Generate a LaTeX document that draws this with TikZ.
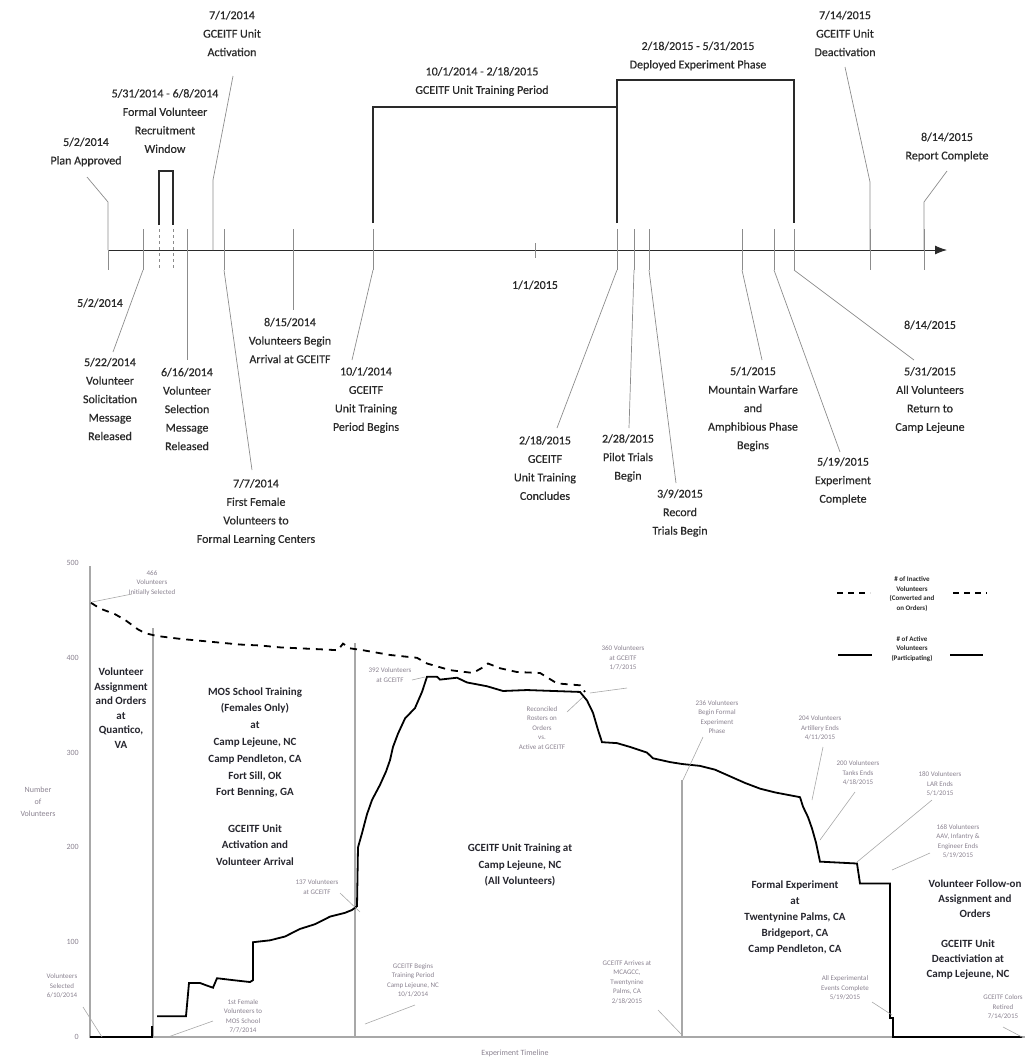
\documentclass[tikz,border=0pt]{standalone}
\usepackage{fontspec}
\setmainfont{Carlito}
\newfontfamily\tlfont{Carlito}[FakeBold=0.5]
\usetikzlibrary{arrows.meta}
\definecolor{ink}{HTML}{2A2A2A}
\definecolor{leader}{HTML}{8C8C8C}
\definecolor{note}{HTML}{8A8290}
\definecolor{divider}{HTML}{A8A8A8}
\definecolor{phase}{HTML}{26262E}
\begin{document}
\begin{tikzpicture}[x=1pt,y=-1pt,
  tl/.style={font=\tlfont\fontsize{12}{18.5}\selectfont, text=ink, align=center, inner sep=0pt},
  tickmark/.style={draw=leader, line width=0.7pt},
  lead/.style={draw=leader, line width=0.7pt},
  bracket/.style={draw=ink, line width=2pt},
  notelbl/.style={font=\fontsize{7}{9.5}\selectfont, text=note, align=center, inner sep=0pt},
  notelead/.style={draw=divider, line width=0.6pt},
  legendlbl/.style={font=\bfseries\fontsize{7}{9.5}\selectfont, text=ink, align=center, inner sep=0pt},
  phaselbl/.style={font=\bfseries\fontsize{11}{14.5}\selectfont, text=phase, align=center, inner sep=0pt},
  phasewide/.style={phaselbl, font=\bfseries\fontsize{11}{16.8}\selectfont},
  axislbl/.style={font=\fontsize{8}{12}\selectfont, text=note, inner sep=0pt},
  divline/.style={draw=divider, line width=1.4pt},
  active/.style={draw=black, line width=1.8pt, line join=miter},
  inactive/.style={draw=black, line width=1.8pt, dash pattern=on 7pt off 6pt}
]
\useasboundingbox (0,0) rectangle (1025,1061);

% ---------------- timeline ----------------
\coordinate (axL) at (108,250);
\coordinate (axR) at (947,250);
\draw[draw=ink, line width=0.9pt, -{Latex[length=12pt,width=9pt]}] (axL) -- (axR);

% tick marks crossing the axis
\foreach \x in {143,187,224,293,373,617,634,649,742,774,794,870,924}
  \draw[tickmark] (\x,229) -- (\x,270);
\draw[tickmark] (108,250) -- (108,270);
\draw[tickmark] (535,243) -- (535,258);
\foreach \x in {159,173}
  \draw[draw=leader, line width=0.7pt, dash pattern=on 3pt off 3pt] (\x,229) -- (\x,270);

% labels above the axis
\node[tl] (planA) at (86,152) {5/2/2014\\Plan Approved};
\node[tl] (recr) at (165,121) {5/31/2014 - 6/8/2014\\Formal Volunteer\\Recruitment\\Window};
\node[tl] (activ) at (232,33.5) {7/1/2014\\GCEITF Unit\\Activation};
\node[tl] (trainP) at (482,81.5) {10/1/2014 - 2/18/2015\\GCEITF Unit Training Period};
\node[tl] (deplP) at (698,56) {2/18/2015 - 5/31/2015\\Deployed Experiment Phase};
\node[tl] (deact) at (845,33.5) {7/14/2015\\GCEITF Unit\\Deactivation};
\node[tl] (report) at (947,147) {8/14/2015\\Report Complete};

% recruitment window bracket
\coordinate (w1) at (159,225); \coordinate (w2) at (159,171);
\coordinate (w3) at (173,171); \coordinate (w4) at (173,225);
\draw[bracket, line width=1.6pt] (w1) -- (w2) -- (w3) -- (w4);

% training period and deployed phase brackets
\coordinate (t1) at (373,223); \coordinate (t2) at (373,107); \coordinate (t3) at (617,107);
\coordinate (d1) at (617,223); \coordinate (d2) at (617,80);
\coordinate (d3) at (794,80); \coordinate (d4) at (794,223);
\draw[bracket] (t1) -- (t2) -- (t3);
\draw[bracket] (d1) -- (d2) -- (d3) -- (d4);

% leaders above the axis
\coordinate (pa1) at (87,177); \coordinate (pa2) at (108,202);
\draw[lead] (pa1) -- (pa2) -- (axL);
\coordinate (ac1) at (233,76); \coordinate (ac2) at (213,180); \coordinate (ac3) at (213,250);
\draw[lead] (ac1) -- (ac2) -- (ac3);
\coordinate (de1) at (845,67); \coordinate (de2) at (870,182); \coordinate (de3) at (870,250);
\draw[lead] (de1) -- (de2) -- (de3);
\coordinate (rc1) at (947,171); \coordinate (rc2) at (924,202); \coordinate (rc3) at (924,250);
\draw[lead] (rc1) -- (rc2) -- (rc3);

% labels below the axis
\node[tl] (b52) at (100,303) {5/2/2014};
\node[tl] (b11) at (535,285) {1/1/2015};
\node[tl] (b814) at (930,325) {8/14/2015};
\node[tl] (b815) at (290,340.5) {8/15/2014\\Volunteers Begin\\Arrival at GCEITF};
\node[tl] (b522) at (110,399) {5/22/2014\\Volunteer\\Solicitation\\Message\\Released};
\node[tl] (b616) at (187,409) {6/16/2014\\Volunteer\\Selection\\Message\\Released};
\node[tl] (b101) at (366,400) {10/1/2014\\GCEITF\\Unit Training\\Period Begins};
\node[tl] (b77) at (256,512) {7/7/2014\\First Female\\Volunteers to\\Formal Learning Centers};
\node[tl] (b218) at (545,468) {2/18/2015\\GCEITF\\Unit Training\\Concludes};
\node[tl] (b228) at (628,458) {2/28/2015\\Pilot Trials\\Begin};
\node[tl] (b39) at (680,513) {3/9/2015\\Record\\Trials Begin};
\node[tl] (b51) at (753,409) {5/1/2015\\Mountain Warfare\\and\\Amphibious Phase\\Begins};
\node[tl] (b519) at (843,481) {5/19/2015\\Experiment\\Complete};
\node[tl] (b531) at (930,400) {5/31/2015\\All Volunteers\\Return to\\Camp Lejeune};

% leaders below the axis (each starts at the foot of its tick)
\coordinate (s0) at (143,270); \coordinate (s2) at (113,352);
\draw[lead] (s0) -- (s2);
\coordinate (v0) at (187,270); \coordinate (v1) at (187,360);
\draw[lead] (v0) -- (v1);
\coordinate (f0) at (224,270); \coordinate (f2) at (252,470);
\draw[lead] (f0) -- (f2);
\coordinate (g0) at (293,270); \coordinate (g1) at (293,310);
\draw[lead] (g0) -- (g1);
\coordinate (u0) at (373,270); \coordinate (u2) at (352,360);
\draw[lead] (u0) -- (u2);
\coordinate (c0) at (617,270); \coordinate (c2) at (557,428);
\draw[lead] (c0) -- (c2);
\coordinate (p0) at (634,270); \coordinate (p2) at (629,428);
\draw[lead] (p0) -- (p2);
\coordinate (r0) at (649,270); \coordinate (r2) at (676,483);
\draw[lead] (r0) -- (r2);
\coordinate (m0) at (742,270); \coordinate (m2) at (762,360);
\draw[lead] (m0) -- (m2);
\coordinate (e0) at (774,270); \coordinate (e2) at (840,452);
\draw[lead] (e0) -- (e2);
\coordinate (a0) at (794,270); \coordinate (a2) at (914,360);
\draw[lead] (a0) -- (a2);

% ---------------- volunteer chart ----------------
\coordinate (o) at (90,1037);
\coordinate (ytop) at (90,566);
\coordinate (xend) at (1025,1037);
\draw[divline] (ytop) -- (o) -- (xend);
\coordinate (q1) at (153,628); \coordinate (q2) at (153,1037);
\draw[divline] (q1) -- (q2);
\coordinate (k1) at (355,643); \coordinate (k2) at (355,1037);
\draw[divline] (k1) -- (k2);
\coordinate (h1) at (682,780); \coordinate (h2) at (682,1037);
\draw[divline] (h1) -- (h2);

% axis labels
\foreach \v in {0,100,200,300,400,500}
  \node[axislbl, anchor=east] at (79,{1037-0.948*\v}) {\v};
\node[axislbl, align=center, font=\fontsize{8}{12}\selectfont] (ylab) at (38,802) {Number\\of\\Volunteers};
\node[axislbl] (xlab) at (515,1053) {Experiment Timeline};

% curves in (x, number of volunteers) coordinates
\begin{scope}[shift={(0,1037)}, y=0.948pt]
\draw[active] (90,0) -- (152,0) -- (152,12);
\draw[active] (157,22) -- (186,22) -- (189,57) -- (200,57) -- (205,55) -- (213,52) -- (217,62)
  -- (233,60) -- (250,58) -- (253,60) -- (253,100) -- (270,102) -- (285,106) -- (300,114)
  -- (315,119) -- (330,127) -- (345,131) -- (352,134) -- (357,138) -- (358,200) -- (362,215)
  -- (367,235) -- (372,250) -- (380,266) -- (386,280) -- (390,292) -- (393,306) -- (398,320)
  -- (405,336) -- (415,347) -- (422,364) -- (427,380) -- (437,380) -- (440,377) -- (457,379)
  -- (467,374) -- (487,370) -- (503,365) -- (527,366) -- (580,364) -- (587,355) -- (593,342)
  -- (598,324) -- (602,311) -- (617,310) -- (630,306) -- (647,300) -- (653,294) -- (670,290)
  -- (682,288) -- (700,286) -- (715,282) -- (730,275) -- (745,268) -- (760,262) -- (775,258)
  -- (790,255) -- (800,253) -- (803,243) -- (808,232) -- (812,220) -- (816,205) -- (820,185)
  -- (857,183) -- (860,162) -- (890,162) -- (890,20) -- (893,20) -- (893,0) -- (1022,0);
\draw[inactive] (91,458) -- (100,452) -- (115,446) -- (125,440) -- (138,430) -- (145,426)
  -- (157,423) -- (180,420) -- (200,418) -- (220,416) -- (240,414) -- (260,413) -- (280,411)
  -- (300,410) -- (320,409) -- (338,408) -- (343,415) -- (350,410) -- (363,408) -- (390,403)
  -- (417,400) -- (427,394) -- (450,387) -- (473,384) -- (483,390) -- (488,394) -- (500,389)
  -- (517,385) -- (540,384) -- (557,373) -- (580,371) -- (585,364);
\end{scope}

% legend
\coordinate (lg1) at (837,593); \coordinate (lg2) at (870,593);
\coordinate (lg3) at (953,593); \coordinate (lg4) at (987,593);
\draw[inactive, dash pattern=on 6pt off 5pt] (lg1) -- (lg2);
\draw[inactive, dash pattern=on 6pt off 5pt] (lg3) -- (lg4);
\node[legendlbl] (leg1) at (912,594) {\# of Inactive\\Volunteers\\(Converted and\\on Orders)};
\coordinate (ls1) at (838,655); \coordinate (ls2) at (872,655);
\coordinate (ls3) at (950,655); \coordinate (ls4) at (983,655);
\draw[active] (ls1) -- (ls2);
\draw[active] (ls3) -- (ls4);
\node[legendlbl] (leg2) at (912,649) {\# of Active\\Volunteers\\(Participating)};

% phase descriptions
\node[phaselbl] (quant) at (121,708) {Volunteer\\Assignment\\and Orders\\at\\Quantico,\\VA};
\node[phasewide] (mos) at (255,742.5) {MOS School Training\\(Females Only)\\at\\Camp Lejeune, NC\\Camp Pendleton, CA\\Fort Sill, OK\\Fort Benning, GA};
\node[phasewide] (unitact) at (255,845) {GCEITF Unit\\Activation and\\Volunteer Arrival};
\node[phasewide] (unittr) at (520,865) {GCEITF Unit Training at\\Camp Lejeune, NC\\(All Volunteers)};
\node[phaselbl, font=\bfseries\fontsize{11}{16}\selectfont] (formal) at (795,917.5) {Formal Experiment\\at\\Twentynine Palms, CA\\Bridgeport, CA\\Camp Pendleton, CA};
\node[phaselbl, font=\bfseries\fontsize{11}{15}\selectfont] (follow) at (975,899) {Volunteer Follow-on\\Assignment and\\Orders};
\node[phaselbl, font=\bfseries\fontsize{11}{15}\selectfont] (deunit) at (968,960) {GCEITF Unit\\Deactiviation at\\Camp Lejeune, NC};

% event notes on the chart
\node[notelbl] (n466) at (152,583) {466\\Volunteers\\Initially Selected};
\coordinate (n466a) at (92,602); \coordinate (n466b) at (132,594);
\draw[notelead] (n466a) -- (n466b);
\node[notelbl] (nsel) at (62,986) {Volunteers\\Selected\\6/10/2014};
\coordinate (nsela) at (83,1007); \coordinate (nselb) at (102,1037);
\draw[notelead] (nsela) -- (nselb);
\node[notelbl] (nfem) at (243,1016) {1st Female\\Volunteers to\\MOS School\\7/7/2014};
\coordinate (nfema) at (213,1021); \coordinate (nfemb) at (168,1037);
\draw[notelead] (nfema) -- (nfemb);
\node[notelbl] (n137) at (317,887) {137 Volunteers\\at GCEITF};
\coordinate (n137a) at (340,893); \coordinate (n137b) at (360,912);
\draw[notelead] (n137a) -- (n137b);
\node[notelbl] (n392) at (390,675) {392 Volunteers\\at GCEITF};
\coordinate (n392a) at (412,680); \coordinate (n392b) at (425,677);
\draw[notelead] (n392a) -- (n392b);
\node[notelbl] (n360) at (623,658) {360 Volunteers\\at GCEITF\\1/7/2015};
\coordinate (n360a) at (627,688); \coordinate (n360b) at (590,693);
\draw[notelead] (n360a) -- (n360b);
\node[notelbl] (nrec) at (542,728) {Reconciled\\Rosters on\\Orders\\vs.\\Active at GCEITF};
\coordinate (nreca) at (567,712); \coordinate (nrecb) at (583,697);
\draw[notelead] (nreca) -- (nrecb);
\node[notelbl] (ntrb) at (413,980) {GCEITF Begins\\Training Period\\Camp Lejeune, NC\\10/1/2014};
\coordinate (ntrba) at (415,1005); \coordinate (ntrbb) at (365,1024);
\draw[notelead] (ntrba) -- (ntrbb);
\node[notelbl] (narr) at (627,982) {GCEITF Arrives at\\MCAGCC,\\Twentynine\\Palms, CA\\2/18/2015};
\coordinate (narra) at (658,1010); \coordinate (narrb) at (682,1035);
\draw[notelead] (narra) -- (narrb);
\node[notelbl] (n236) at (717,717) {236 Volunteers\\Begin Formal\\Experiment\\Phase};
\coordinate (n236a) at (703,737); \coordinate (n236b) at (683,780);
\draw[notelead] (n236a) -- (n236b);
\node[notelbl] (n204) at (820,728) {204 Volunteers\\Artillery Ends\\4/11/2015};
\coordinate (n204a) at (823,747); \coordinate (n204b) at (812,800);
\draw[notelead] (n204a) -- (n204b);
\node[notelbl] (n200) at (858,773) {200 Volunteers\\Tanks Ends\\4/18/2015};
\coordinate (n200a) at (855,792); \coordinate (n200b) at (820,840);
\draw[notelead] (n200a) -- (n200b);
\node[notelbl] (n180) at (940,784) {180 Volunteers\\LAR Ends\\5/1/2015};
\coordinate (n180a) at (932,800); \coordinate (n180b) at (857,862);
\draw[notelead] (n180a) -- (n180b);
\node[notelbl] (n168) at (958,841) {168 Volunteers\\AAV, Infantry \&\\Engineer Ends\\5/19/2015};
\coordinate (n168a) at (930,853); \coordinate (n168b) at (892,870);
\draw[notelead] (n168a) -- (n168b);
\node[notelbl] (nall) at (845,988) {All Experimental\\Events Complete\\5/19/2015};
\coordinate (nalla) at (872,1002); \coordinate (nallb) at (892,1015);
\draw[notelead] (nalla) -- (nallb);
\node[notelbl] (ncol) at (1003,1007) {GCEITF Colors\\Retired\\7/14/2015};
\coordinate (ncola) at (1003,1027); \coordinate (ncolb) at (1022,1037);
\draw[notelead] (ncola) -- (ncolb);
\end{tikzpicture}
\end{document}
